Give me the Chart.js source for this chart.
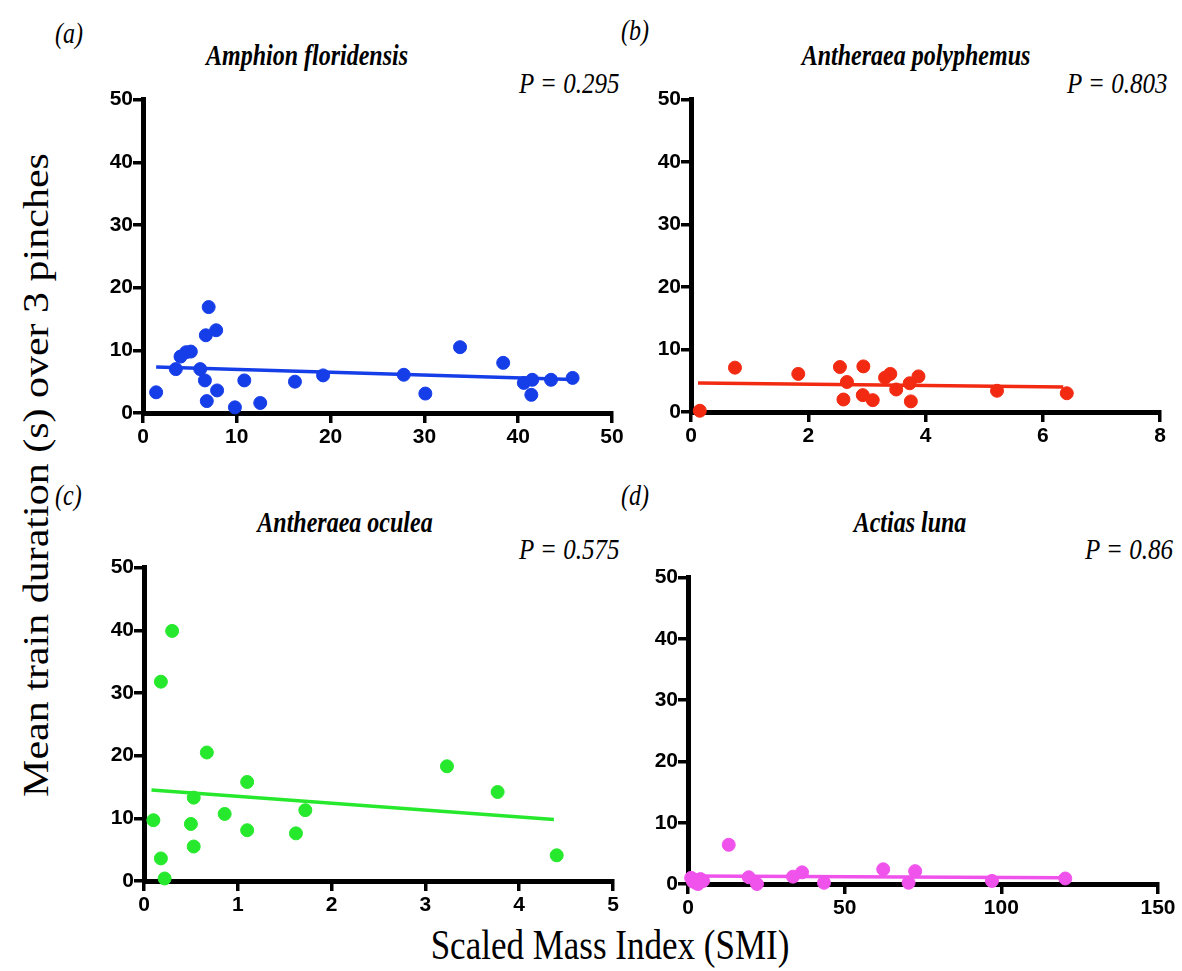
<!DOCTYPE html>
<html>
<head>
<meta charset="utf-8">
<script src="https://cdn.jsdelivr.net/npm/chart.js@4"></script>
<style>
  body { margin: 0; background: #fff; width: 1182px; height: 971px; position: relative; overflow: hidden; }
  .box { position: absolute; }
  .txt { position: absolute; font-family: "Liberation Serif", "Times New Roman", serif; color: #000; white-space: nowrap; line-height: 1; }
  .tag { font-style: italic; font-size: 24px; transform: translateY(-50%) scaleY(1.2); }
  .ttl { font-style: italic; font-weight: bold; font-size: 24px; transform: translate(-50%,-50%) scaleY(1.2); }
  .pv  { font-style: italic; font-size: 25px; transform: translateY(-50%) scaleY(1.15); }
</style>
</head>
<body>
<div class="txt tag" style="left:55px; top:33px;">(a)</div>
<div class="txt tag" style="left:621px; top:30px;">(b)</div>
<div class="txt tag" style="left:55px; top:495px;">(c)</div>
<div class="txt tag" style="left:621px; top:495px;">(d)</div>

<div class="txt ttl" style="left:307px; top:55px;">Amphion floridensis</div>
<div class="txt ttl" style="left:916px; top:55px;">Antheraea polyphemus</div>
<div class="txt ttl" style="left:345px; top:522px;">Antheraea oculea</div>
<div class="txt ttl" style="left:910px; top:522px;">Actias luna</div>

<div class="txt pv" style="left:519px; top:83px;">P = 0.295</div>
<div class="txt pv" style="left:1067px; top:83px;">P = 0.803</div>
<div class="txt pv" style="left:519px; top:549px;">P = 0.575</div>
<div class="txt pv" style="left:1085px; top:549px;">P = 0.86</div>

<div class="txt" style="font-size:35px; left:36px; top:475px; transform: translate(-50%,-50%) scaleY(1.2) rotate(-90deg);">Mean train duration (s) over 3 pinches</div>
<div class="txt" style="font-size:35px; left:610px; top:945px; transform: translate(-50%,-50%) scaleY(1.2);">Scaled Mass Index (SMI)</div>

<div class="box" style="left:88px; top:87px; width:549px; height:361px;"><canvas id="ca"></canvas></div>
<div class="box" style="left:636px; top:87px; width:549px; height:360px;"><canvas id="cb"></canvas></div>
<div class="box" style="left:89px; top:555px; width:549px; height:361px;"><canvas id="cc"></canvas></div>
<div class="box" style="left:633px; top:565px; width:550px; height:354px;"><canvas id="cd"></canvas></div>

<script>
// (a) Amphion floridensis
const aX = [1.4, 3.5, 4.0, 4.6, 5.1, 6.7, 7.0, 7.8, 6.1, 6.6, 6.8, 7.9, 9.8, 10.8, 12.5, 16.2, 19.2, 27.8, 30.1, 33.8, 38.4, 40.6, 41.5, 41.4, 43.5, 45.8];
const aY = [3.3, 7.0, 9.0, 9.7, 9.8, 12.4, 16.9, 13.2, 7.0, 5.2, 1.9, 3.6, 0.9, 5.2, 1.6, 5.0, 6.0, 6.1, 3.1, 10.5, 8.0, 4.8, 5.3, 2.9, 5.3, 5.6];
const aTrendX = [1.4, 45.8];
const aTrendY = [7.35, 5.35];

// (b) Antheraea polyphemus
const bX = [0.15, 0.75, 1.83, 2.54, 2.66, 2.6, 2.94, 2.93, 3.1, 3.31, 3.4, 3.5, 3.73, 3.88, 3.75, 5.22, 6.41];
const bY = [0.2, 7.1, 6.1, 7.2, 4.8, 2.0, 7.3, 2.7, 1.9, 5.5, 6.1, 3.6, 4.6, 5.7, 1.7, 3.4, 3.0];
const bTrendX = [0.12, 6.35];
const bTrendY = [4.65, 4.0];

// (c) Antheraea oculea
const cX = [0.1, 0.18, 0.3, 0.18, 0.22, 0.5, 0.53, 0.53, 0.67, 0.86, 1.1, 1.1, 1.62, 1.72, 3.23, 3.77, 4.4];
const cY = [9.7, 31.8, 39.9, 3.6, 0.4, 9.1, 13.3, 5.5, 20.5, 10.7, 15.8, 8.1, 7.6, 11.3, 18.3, 14.2, 4.1];
const cTrendX = [0.08, 4.37];
const cTrendY = [14.5, 9.8];

// (d) Actias luna
const dX = [1.0, 1.6, 2.1, 2.5, 3.2, 4.0, 4.8, 13, 19.4, 22, 33.5, 36.4, 43.4, 62.3, 70.4, 72.5, 97, 120.4];
const dY = [1.0, 0.4, 0.7, 0.2, 0.0, 0.8, 0.5, 6.4, 1.1, 0.0, 1.2, 1.9, 0.2, 2.4, 0.2, 2.1, 0.5, 0.9];
const dTrendX = [1.5, 120];
const dTrendY = [1.3, 1.0];

const yTicks = [0, 10, 20, 30, 40, 50];

function pts(xs, ys) {
  return xs.map((x, i) => ({ x: x, y: ys[i] }));
}

function makeChart(id, xs, ys, tx, ty, xMax, xStep, color) {
  const tickFont = { family: '"Liberation Sans", Arial, sans-serif', weight: 'bold', size: 21 };
  new Chart(document.getElementById(id), {
    type: 'scatter',
    data: {
      datasets: [
        {
          data: pts(xs, ys),
          backgroundColor: color,
          borderColor: color,
          pointRadius: 6.5,
          pointHoverRadius: 6.5,
          clip: false
        },
        {
          type: 'line',
          data: pts(tx, ty),
          borderColor: color,
          borderWidth: 3.5,
          pointRadius: 0,
          fill: false,
          clip: false
        }
      ]
    },
    options: {
      responsive: true,
      maintainAspectRatio: false,
      animation: false,
      layout: { padding: { top: 12, right: 25, left: 0, bottom: 0 } },
      plugins: { legend: { display: false }, tooltip: { enabled: false } },
      scales: {
        x: {
          type: 'linear',
          min: 0,
          max: xMax,
          afterFit: s => { s.height = 35; },
          ticks: { stepSize: xStep, color: '#000', font: tickFont, padding: 2, maxRotation: 0 },
          grid: { drawOnChartArea: false, tickLength: 10, lineWidth: 3.5, color: '#000' },
          border: { width: 5, color: '#000' }
        },
        y: {
          min: 0,
          max: 50,
          afterFit: s => { s.width = 55; },
          afterBuildTicks: s => { s.ticks = yTicks.map(v => ({ value: v })); },
          ticks: { color: '#000', font: tickFont, padding: 0 },
          grid: { drawOnChartArea: false, tickLength: 10, lineWidth: 3.5, color: '#000' },
          border: { width: 5, color: '#000' }
        }
      }
    }
  });
}

makeChart('ca', aX, aY, aTrendX, aTrendY, 50, 10, 'rgb(22,62,232)');
makeChart('cb', bX, bY, bTrendX, bTrendY, 8, 2, 'rgb(242,42,18)');
makeChart('cc', cX, cY, cTrendX, cTrendY, 5, 1, 'rgb(38,232,44)');
makeChart('cd', dX, dY, dTrendX, dTrendY, 150, 50, 'rgb(240,82,236)');
</script>
</body>
</html>
